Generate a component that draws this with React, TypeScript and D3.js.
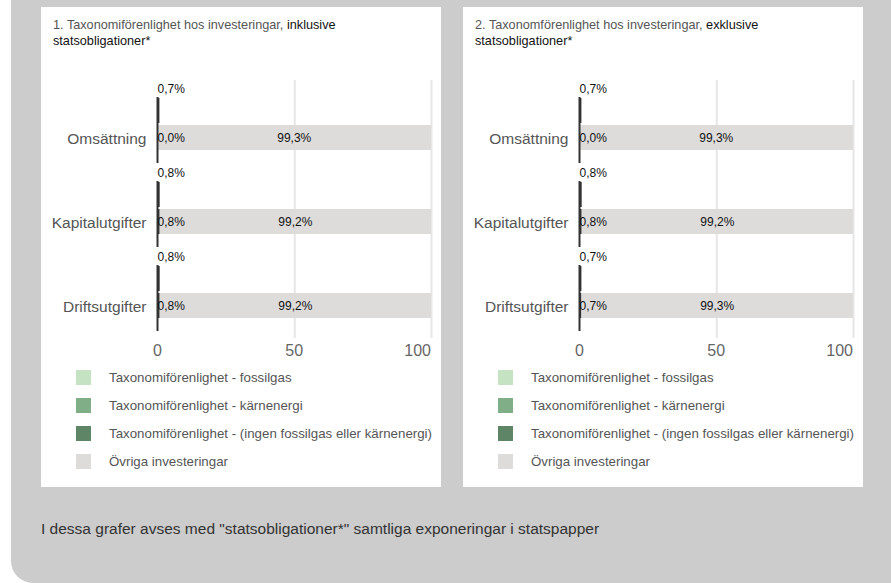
import React from "react";
import * as d3 from "d3";

const categories = ["Omsättning", "Kapitalutgifter", "Driftsutgifter"];

// Panel 1: inklusive statsobligationer
const p1Aligned = [0.7, 0.8, 0.8];
const p1LowerDark = [0.0, 0.8, 0.8];
const p1Other = [99.3, 99.2, 99.2];

// Panel 2: exklusive statsobligationer
const p2Aligned = [0.7, 0.8, 0.7];
const p2LowerDark = [0.0, 0.8, 0.7];
const p2Other = [99.3, 99.2, 99.3];

const xTicks = [0, 50, 100];

const legendLabels = [
  "Taxonomiförenlighet - fossilgas",
  "Taxonomiförenlighet - kärnenergi",
  "Taxonomiförenlighet - (ingen fossilgas eller kärnenergi)",
  "Övriga investeringar",
];
const legendColors = ["#c5e3c3", "#80ae86", "#5e8566", "#dddcdb"];

const titleGrey = ["1. Taxonomiförenlighet hos investeringar, ", "2. Taxonomförenlighet hos investeringar, "];
const titleBold = ["inklusive", "exklusive"];
const titleLine2 = "statsobligationer*";
const footer = 'I dessa grafer avses med "statsobligationer*" samtliga exponeringar i statspapper';

const FONT = "'Liberation Sans', Arial, Helvetica, sans-serif";
const fmt = (v: number) => v.toFixed(1).replace(".", ",") + "%";

function Panel({ ox, idx, aligned, lowerDark, other }: { ox: number; idx: number; aligned: number[]; lowerDark: number[]; other: number[] }) {
  const x = d3.scaleLinear().domain([0, 100]).range([ox + 116.5, ox + 390]);
  const y = d3.scaleBand().domain(categories).range([97, 97 + 84 * 3]).paddingInner(0).paddingOuter(0);
  const bandH = 66;
  return (
    <g>
      <rect x={ox} y={7} width={400} height={480} fill="#ffffff" />
      <text x={ox + 12} y={29} fontSize={12.7} fontFamily={FONT} fill="#555">
        {titleGrey[idx]}
        <tspan fill="#111">{titleBold[idx]}</tspan>
      </text>
      <text x={ox + 12} y={45} fontSize={12.7} fontFamily={FONT} fill="#111">{titleLine2}</text>
      {xTicks.slice(1).map((t) => (
        <line key={t} x1={x(t) + 0.5} x2={x(t) + 0.5} y1={80} y2={338} stroke="#e6e6e6" strokeWidth={2} />
      ))}
      {categories.map((c, i) => {
        const top = y(c) as number;
        const upperY = top + 1;
        const lowerY = top + 28;
        const h = 25;
        // percent stacking of the lower bar
        const total = lowerDark[i] + other[i];
        const pct = d3.scaleLinear().domain([0, total]).range([0, 100]);
        const darkEnd = x(pct(lowerDark[i]));
        return (
          <g key={c}>
            <rect x={x(0)} y={lowerY} width={darkEnd - x(0)} height={h} fill="#333" />
            <rect x={darkEnd} y={lowerY} width={x(pct(total)) - darkEnd} height={h} fill="#dddcdb" />
            <rect x={x(0)} y={upperY} width={Math.max(x(aligned[i]) - x(0), 1)} height={h} fill="#333" />
            <line x1={x(0)} x2={x(0)} y1={top} y2={top + bandH} stroke="#333" strokeWidth={2} />
            <text x={x(0)} y={upperY - 5} fontSize={12} fontFamily={FONT} fill="#111">{fmt(aligned[i])}</text>
            <text x={x(0)} y={lowerY + h / 2 + 4} fontSize={12} fontFamily={FONT} fill="#111">{fmt(lowerDark[i])}</text>
            <text x={(darkEnd + x(100)) / 2} y={lowerY + h / 2 + 4} fontSize={12} fontFamily={FONT} fill="#111" textAnchor="middle">{fmt(other[i])}</text>
            <text x={x(0) - 11} y={lowerY + h / 2 + 6} fontSize={15.5} fontFamily={FONT} fill="#555" textAnchor="end">{c}</text>
          </g>
        );
      })}
      {xTicks.map((t, i) => (
        <text key={t} x={x(t)} y={356} fontSize={16} fontFamily={FONT} fill="#666" textAnchor={i === xTicks.length - 1 ? "end" : "middle"}>{t}</text>
      ))}
      {legendLabels.map((l, i) => (
        <g key={l}>
          <rect x={ox + 35} y={370 + 28 * i} width={15} height={15} fill={legendColors[i]} />
          <text x={ox + 68} y={382 + 28 * i} fontSize={13.3} fontFamily={FONT} fill="#555">{l}</text>
        </g>
      ))}
    </g>
  );
}

export default function App() {
  return (
    <svg width={891} height={583} style={{ position: "absolute", left: 0, top: 0, display: "block" }}>
      <rect x={0} y={0} width={891} height={583} fill="#ffffff" />
      <rect x={11} y={-40} width={900} height={623} rx={22} ry={22} fill="#cccccc" />
      <Panel ox={41} idx={0} aligned={p1Aligned} lowerDark={p1LowerDark} other={p1Other} />
      <Panel ox={463} idx={1} aligned={p2Aligned} lowerDark={p2LowerDark} other={p2Other} />
      <text x={41} y={534} fontSize={15.5} fontFamily={FONT} fill="#333">{footer}</text>
    </svg>
  );
}
